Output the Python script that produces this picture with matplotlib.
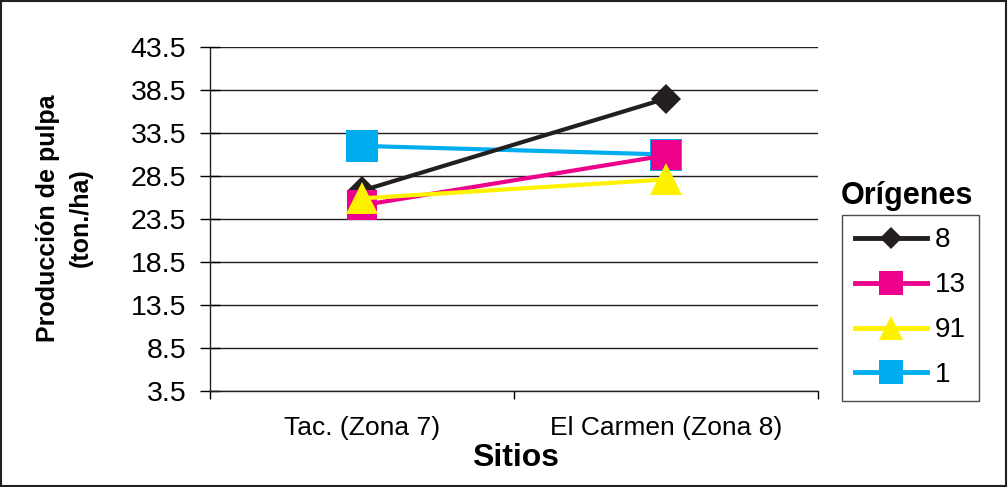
import matplotlib
matplotlib.use("Agg")
import matplotlib.pyplot as plt
from matplotlib.lines import Line2D
from matplotlib.patches import Rectangle

# Data
sitios = ['Tac. (Zona 7)', 'El Carmen (Zona 8)']
origenes = ['8', '13', '91', '1']
prod_8 = [26.8, 37.5]
prod_13 = [25.1, 30.9]
prod_91 = [25.9, 28.1]
prod_1 = [32.0, 31.0]
yticks = [3.5, 8.5, 13.5, 18.5, 23.5, 28.5, 33.5, 38.5, 43.5]

plt.rcParams['font.family'] = ['Liberation Sans', 'DejaVu Sans']

fig = plt.figure(figsize=(10.08, 4.87), dpi=100)
ax = fig.add_axes([210/1008, 1 - 391/487, 608/1008, 344/487])

x = [0, 1]
styles = [
    ('1', prod_1, '#00aeef', 's', 23),
    ('8', prod_8, '#231f20', 'D', 15),
    ('13', prod_13, '#ec008c', 's', 22),
    ('91', prod_91, '#fff200', '^', 23),
]
for name, vals, col, mk, ms in styles:
    ax.plot(x, vals, color=col, linewidth=3, marker=mk, markersize=ms,
            markeredgewidth=0, clip_on=False)

ax.set_xlim(-0.5, 1.5)
ax.set_ylim(3.5, 43.5)
ax.set_yticks(yticks)
ax.set_yticklabels([str(t) for t in yticks])
ax.yaxis.grid(True, color='#231f20', linewidth=1)
ax.set_axisbelow(True)

# category boundaries get tick marks, labels sit between them
ax.set_xticks([-0.5, 0.5, 1.5])
ax.set_xticklabels([])
ax.set_xticks(x, minor=True)
ax.set_xticklabels(sitios, minor=True, fontsize=19)
ax.tick_params(axis='x', which='minor', length=0, pad=18)
ax.tick_params(axis='x', which='major', length=6, width=1, direction='out')
ax.tick_params(axis='y', length=14, width=1, direction='inout', labelsize=20.5, pad=10)

for s in ['top', 'right']:
    ax.spines[s].set_visible(False)
for s in ['left', 'bottom']:
    ax.spines[s].set_color('#231f20')
    ax.spines[s].set_linewidth(1)

fig.text(516/1008, 1 - 458/487, 'Sitios', ha='center', va='center',
         fontsize=23, fontweight='bold')
fig.text(64/1008, 1 - 218/487, 'Producción de pulpa\n(ton./ha)', ha='center',
         va='center', rotation=90, fontsize=18, fontweight='bold',
         linespacing=1.45)

# Legend (title is drawn above the box like the original)
handles = [
    Line2D([], [], color='#231f20', lw=3.5, marker='D', markersize=11, markeredgewidth=0),
    Line2D([], [], color='#ec008c', lw=3.5, marker='s', markersize=17, markeredgewidth=0),
    Line2D([], [], color='#fff200', lw=3.5, marker='^', markersize=17, markeredgewidth=0),
    Line2D([], [], color='#00aeef', lw=3.5, marker='s', markersize=17, markeredgewidth=0),
]
leg = fig.legend(handles, origenes, loc='upper left',
                 bbox_to_anchor=(842/1008, 1 - 215/487), fontsize=20,
                 frameon=True, fancybox=False, edgecolor='#231f20',
                 handlelength=2.6, handletextpad=0.3, labelspacing=0.68,
                 borderpad=0.45, borderaxespad=0)
leg.get_frame().set_linewidth(1)
fig.text(907/1008, 1 - 196/487, 'Orígenes', ha='center', va='center',
         fontsize=22, fontweight='bold')

# black frame around the whole picture
fig.patches.append(Rectangle((0.001, 0.002), 0.997, 0.996, transform=fig.transFigure,
                             fill=False, edgecolor='#231f20', linewidth=1.5))

fig.savefig('out.png', dpi=100)
